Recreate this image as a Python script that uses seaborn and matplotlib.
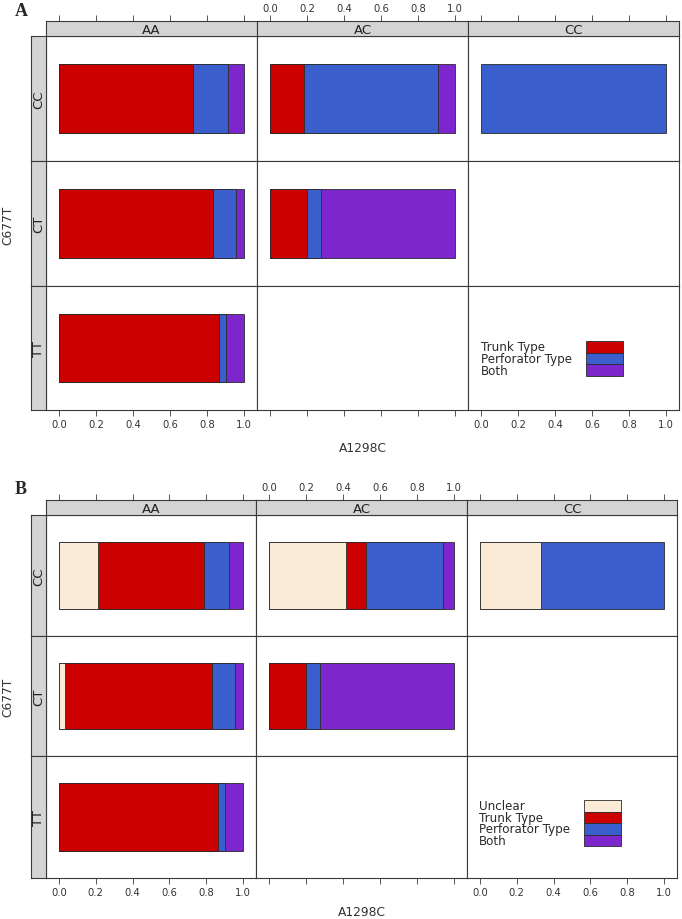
import numpy as np
import pandas as pd
import matplotlib
matplotlib.use("Agg")
import matplotlib.pyplot as plt
from matplotlib.patches import Rectangle
import seaborn as sns

# ---------------- data ----------------
a1298c_levels = ["AA", "AC", "CC"]          # columns (x strips)
c677t_levels = ["CC", "CT", "TT"]           # rows (y strips)
cell_rows = ["CC", "CC", "CC", "CT", "CT", "CT", "TT", "TT", "TT"]
cell_cols = ["AA", "AC", "CC", "AA", "AC", "CC", "AA", "AC", "CC"]
NA = np.nan

cats_A = ["Trunk Type", "Perforator Type", "Both"]
A_trunk = [0.724, 0.184, 0.0, 0.832, 0.200, NA, 0.862, NA, NA]
A_perf = [0.190, 0.724, 1.0, 0.125, 0.076, NA, 0.038, NA, NA]
A_both = [0.086, 0.092, 0.0, 0.043, 0.724, NA, 0.100, NA, NA]

cats_B = ["Unclear", "Trunk Type", "Perforator Type", "Both"]
B_unclear = [0.213, 0.415, 0.330, 0.035, 0.0, NA, 0.0, NA, NA]
B_trunk = [0.573, 0.108, 0.0, 0.795, 0.200, NA, 0.862, NA, NA]
B_perf = [0.138, 0.417, 0.670, 0.127, 0.076, NA, 0.038, NA, NA]
B_both = [0.076, 0.060, 0.0, 0.043, 0.724, NA, 0.100, NA, NA]

x_ticks = [0.0, 0.2, 0.4, 0.6, 0.8, 1.0]
x_tick_labels = ["0.0", "0.2", "0.4", "0.6", "0.8", "1.0"]

palette = {"Unclear": "#FAEBD7", "Trunk Type": "#CD0000",
           "Perforator Type": "#3A5FCD", "Both": "#7D26CD"}


def build_long(cats, series):
    recs = []
    for i in range(len(cell_rows)):
        vals = [s[i] for s in series]
        if all(np.isnan(v) for v in vals):
            continue
        cum = 0.0
        for cat, v in zip(cats, vals):
            cum += v
            if v > 0:
                recs.append(dict(row=cell_rows[i], col=cell_cols[i],
                                 category=cat, value=v, cum=cum))
    return pd.DataFrame(recs)


df_A = build_long(cats_A, [A_trunk, A_perf, A_both])
df_B = build_long(cats_B, [B_unclear, B_trunk, B_perf, B_both])

# ---------------- figure ----------------
sns.set_style("white")
plt.rcParams["font.family"] = ["DejaVu Sans"]
W, H = 682, 920
fig = plt.figure(figsize=(W / 100, H / 100), dpi=100)


def rect(x0, y0, x1, y1):
    return [x0 / W, 1 - y1 / H, (x1 - x0) / W, (y1 - y0) / H]


EDGE = "#3a3a3a"
STRIP = "#D4D4D4"
TXT = "#333333"


def style_spines(ax):
    for s in ax.spines.values():
        s.set_color(EDGE)
        s.set_linewidth(0.8)
        s.set_visible(True)


def draw_panel(df, cats, cols_x, rows_y, strip_y, letter, letter_xy,
               xlabel_y, ylab_xy, legend_x, legend_y):
    hue_order = list(reversed(cats))
    for r, rlev in enumerate(c677t_levels):
        for c, clev in enumerate(a1298c_levels):
            ax = fig.add_axes(rect(cols_x[c], rows_y[r], cols_x[c + 1], rows_y[r + 1]))
            sub = df[(df["row"] == rlev) & (df["col"] == clev)]
            if len(sub):
                present = [h for h in hue_order if h in set(sub["category"])]
                sns.barplot(data=sub, x="cum", y="row", hue="category",
                            hue_order=present, palette=palette, dodge=False,
                            saturation=1, orient="h", width=2 / 3,
                            edgecolor="#2a2a2a", linewidth=0.6, legend=False,
                            ax=ax)
            ax.set_xlim(-0.07, 1.07)
            ax.set_ylim(0.6, -0.6)
            ax.set_yticks([])
            ax.set_xlabel("")
            ax.set_ylabel("")
            ax.set_facecolor("white")
            style_spines(ax)
            if r == 2:
                ax.set_xticks(x_ticks)
                if c == 1:
                    ax.set_xticklabels([])
                else:
                    ax.set_xticklabels(x_tick_labels)
                ax.tick_params(axis="x", direction="out", length=4, width=0.7,
                               color="#555555", labelsize=7.2, labelcolor=TXT,
                               pad=2.5, bottom=True)
            else:
                ax.set_xticks([])
        # left strip
        lax = fig.add_axes(rect(31, rows_y[r], 46, rows_y[r + 1]))
        lax.set_facecolor(STRIP)
        lax.set_xticks([]); lax.set_yticks([])
        style_spines(lax)
        lax.text(0.5, 0.5, rlev, rotation=90, ha="center", va="center",
                 fontsize=9.5, color="#222222", transform=lax.transAxes)
    # top strips
    for c, clev in enumerate(a1298c_levels):
        sax = fig.add_axes(rect(cols_x[c], strip_y[0], cols_x[c + 1], strip_y[1]))
        sax.set_facecolor(STRIP)
        sax.set_xlim(-0.07, 1.07)
        sax.set_ylim(0, 1)
        sax.set_yticks([])
        sax.xaxis.set_ticks_position("top")
        sax.set_xticks(x_ticks)
        sax.set_xticklabels(x_tick_labels if c == 1 else [])
        sax.tick_params(axis="x", direction="out", length=4, width=0.7,
                        color="#555555", labelsize=7.2, labelcolor=TXT, pad=2,
                        top=True, bottom=False, labeltop=True, labelbottom=False)
        style_spines(sax)
        sax.text(0.5, 0.45, clev, ha="center", va="center", fontsize=9.5,
                 color="#222222", transform=sax.transAxes)
    # panel letter
    fig.text(letter_xy[0] / W, 1 - letter_xy[1] / H, letter,
             fontfamily="Liberation Serif", fontweight="bold", fontsize=13,
             ha="center", va="center")
    # axis titles
    xmid = (cols_x[0] + cols_x[-1]) / 2
    fig.text(xmid / W, 1 - xlabel_y / H, "A1298C", ha="center", va="center",
             fontsize=8.8, color=TXT)
    fig.text(ylab_xy[0] / W, 1 - ylab_xy[1] / H, "C677T", ha="center",
             va="center", rotation=90, fontsize=8.8, color=TXT)
    # key
    n = len(cats)
    y0, y1 = legend_y
    step = (y1 - y0) / n
    for i, cat in enumerate(cats):
        ya = y0 + i * step
        fig.patches.append(Rectangle((legend_x[1] / W, 1 - (ya + step) / H),
                                     (legend_x[2] - legend_x[1]) / W, step / H,
                                     transform=fig.transFigure,
                                     facecolor=palette[cat], edgecolor="#2a2a2a",
                                     linewidth=0.6, figure=fig))
        fig.text(legend_x[0] / W, 1 - (ya + step / 2) / H, cat, ha="left",
                 va="center", fontsize=8.6, color="#2a2a2a")


draw_panel(df_A, cats_A,
           cols_x=[46, 257, 468, 679], rows_y=[37, 162, 287, 411],
           strip_y=(22, 37), letter="A", letter_xy=(21, 11),
           xlabel_y=448, ylab_xy=(8, 225),
           legend_x=(481, 586, 623), legend_y=(342, 377))

draw_panel(df_B, cats_B,
           cols_x=[46, 256, 467, 677], rows_y=[516, 637, 757, 879],
           strip_y=(501, 516), letter="B", letter_xy=(21, 490),
           xlabel_y=913, ylab_xy=(8, 697),
           legend_x=(479, 584, 621), legend_y=(801, 847))

fig.savefig("out.png", dpi=100, facecolor="white")
